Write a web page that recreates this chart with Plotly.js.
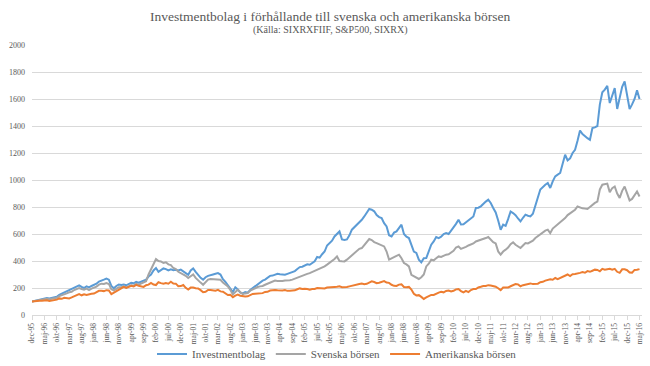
<!DOCTYPE html>
<html>
<head>
<meta charset="utf-8">
<script src="https://cdn.plot.ly/plotly-3.0.1.min.js"></script>
<style>html,body{margin:0;padding:0;background:#fff;}#chart{width:650px;height:366px;}</style>
</head>
<body>
<div id="chart"></div>
<script>
// Monthly observations dec-95 .. maj-16 (index 0..245)
const tickLabels = ["dec-95","maj-96","okt-96","mar-97","aug-97","jan-98","jun-98","nov-98","apr-99","sep-99",
  "feb-00","jul-00","dec-00","maj-01","okt-01","mar-02","aug-02","jan-03","jun-03","nov-03",
  "apr-04","sep-04","feb-05","jul-05","dec-05","maj-06","okt-06","mar-07","aug-07","jan-08",
  "jun-08","nov-08","apr-09","sep-09","feb-10","jul-10","dec-10","maj-11","okt-11","mar-12",
  "aug-12","jan-13","jun-13","nov-13","apr-14","sep-14","feb-15","jul-15","dec-15","maj-16"];

const investmentbolag = [100,
  105,110,113,118,124,126,122,127,131,135,150,158,
  167,175,185,190,203,212,220,208,200,212,205,215,
  222,232,248,258,262,270,262,215,198,215,225,222,
  225,220,230,238,235,245,240,247,252,262,285,300,
  330,348,320,335,345,340,330,338,332,335,330,336,
  325,310,298,330,345,320,298,275,262,280,290,298,
  300,305,310,300,265,245,220,200,170,205,190,165,
  160,170,165,185,200,215,232,240,255,262,275,290,
  292,300,305,302,300,298,305,310,318,325,340,355,
  358,365,375,372,385,398,430,425,450,470,515,530,
  550,582,600,619,560,555,560,590,632,650,668,690,
  705,730,760,785,780,768,740,725,718,680,656,590,
  582,610,619,640,669,600,580,570,520,470,460,410,
  390,420,422,470,521,545,578,570,580,600,607,600,
  625,644,675,706,670,672,686,705,718,730,793,795,
  805,825,840,854,830,793,760,700,632,669,660,710,
  767,755,740,715,693,720,743,735,730,750,820,870,
  930,950,965,978,941,990,1027,1040,1052,1120,1187,1145,
  1160,1200,1224,1290,1367,1340,1323,1310,1298,1385,1390,1400,
  1560,1650,1670,1698,1570,1630,1681,1526,1620,1690,1730,1620,
  1526,1560,1600,1664,1600];

const svenska = [100,
  104,108,110,115,120,120,116,120,124,128,140,145,
  152,160,168,172,185,195,200,192,188,195,185,195,
  200,210,225,232,230,237,230,190,182,195,205,205,
  210,205,212,220,218,230,225,232,240,250,300,336,
  380,415,400,397,385,390,375,370,348,340,320,311,
  305,290,274,290,300,275,261,240,224,245,262,267,
  265,262,265,261,240,224,212,185,152,170,187,170,
  155,160,163,180,190,200,207,212,215,224,232,245,
  249,255,252,250,252,256,255,258,262,270,278,286,
  290,298,305,310,318,328,336,340,352,360,373,385,
  400,415,434,400,398,397,410,425,447,459,475,490,
  496,520,545,563,555,540,533,525,521,508,470,410,
  420,430,440,447,420,385,375,360,298,286,274,267,
  280,300,360,380,410,405,420,434,430,440,447,450,
  460,475,500,508,490,496,505,515,521,530,545,550,
  558,565,570,578,560,540,530,471,447,470,484,500,
  525,538,520,505,496,515,533,530,540,550,570,585,
  600,615,625,632,607,640,656,665,681,700,718,740,
  755,770,780,804,795,790,788,785,800,817,830,840,
  930,965,970,973,910,940,952,900,867,920,952,900,
  849,860,884,915,878];

const amerikanska = [100,
  103,104,105,106,109,109,104,106,112,114,123,120,
  128,128,123,130,138,144,155,146,154,148,155,158,
  159,170,179,180,177,184,182,155,165,178,189,200,
  208,201,209,217,211,223,216,214,208,221,225,238,
  226,222,243,236,231,236,232,246,233,232,213,214,
  222,201,188,203,204,199,197,184,169,172,185,186,
  183,180,186,175,173,161,148,149,132,144,152,143,
  139,137,138,149,156,158,161,164,162,171,172,181,
  184,186,183,180,182,185,179,179,181,183,191,197,
  192,195,192,188,193,193,200,198,199,196,203,203,
  208,208,210,213,206,206,207,212,217,224,227,230,
  233,228,231,241,249,244,236,239,248,251,240,238,
  224,216,215,225,227,208,206,208,189,157,145,147,
  134,119,130,142,149,149,160,166,172,168,178,181,
  174,179,190,193,177,167,179,170,185,192,192,204,
  209,215,215,221,218,214,210,198,184,203,202,204,
  213,222,229,227,213,221,224,228,234,229,230,232,
  243,246,255,259,265,261,274,265,273,285,293,300,
  289,302,304,306,312,318,313,325,320,328,336,334,
  324,342,336,339,342,335,342,320,312,338,338,332,
  315,314,334,335,340];

const titleText = "Investmentbolag i förhållande till svenska och amerikanska börsen";
const subtitleText = "(Källa: SIXRXFIIF, S&amp;P500, SIXRX)";

const months = investmentbolag.map((_, i) => i);
const tickVals = tickLabels.map((_, i) => i * 5);

const FONT = "'Liberation Serif', 'DejaVu Serif', serif";
const TXT = '#595959';

const traces = [
  {x: months, y: investmentbolag, name: 'Investmentbolag', type: 'scatter', mode: 'lines',
   line: {color: '#5B9BD5', width: 2}},
  {x: months, y: svenska, name: 'Svenska börsen', type: 'scatter', mode: 'lines',
   line: {color: '#A5A5A5', width: 2}},
  {x: months, y: amerikanska, name: 'Amerikanska börsen', type: 'scatter', mode: 'lines',
   line: {color: '#ED7D31', width: 2}}
];

const layout = {
  width: 650, height: 366,
  paper_bgcolor: '#ffffff', plot_bgcolor: '#ffffff',
  margin: {l: 32, r: 8, t: 45, b: 51},
  font: {family: FONT, color: TXT},
  annotations: [
    {text: titleText, xref: 'paper', yref: 'paper', x: 0.49, y: 1.107, xanchor: 'center', yanchor: 'middle',
     showarrow: false, font: {family: FONT, size: 13.5, color: TXT}},
    {text: subtitleText, xref: 'paper', yref: 'paper', x: 0.49, y: 1.054, xanchor: 'center', yanchor: 'middle',
     showarrow: false, font: {family: FONT, size: 10, color: TXT}}
  ],
  showlegend: true,
  legend: {orientation: 'h', x: 0.5, xanchor: 'center', xref: 'paper', y: 0.033, yanchor: 'middle', yref: 'container',
    font: {family: FONT, size: 11, color: TXT}, bgcolor: 'rgba(0,0,0,0)', traceorder: 'normal'},
  xaxis: {
    range: [0, 246], tickmode: 'array', tickvals: tickVals, ticktext: tickLabels,
    tickangle: -90, tickfont: {family: FONT, size: 7.5, color: TXT},
    showgrid: false, zeroline: false, showline: true, linecolor: '#D9D9D9', linewidth: 1,
    ticks: 'outside', ticklen: 4, tickcolor: '#D9D9D9', fixedrange: true, automargin: false
  },
  yaxis: {
    range: [0, 2000], dtick: 200, tick0: 0,
    tickfont: {family: FONT, size: 8, color: TXT},
    showgrid: true, gridcolor: '#D9D9D9', gridwidth: 1,
    zeroline: false, showline: false, ticks: '', ticklabelstandoff: 6, fixedrange: true, automargin: false
  }
};

Plotly.newPlot('chart', traces, layout, {displayModeBar: false, staticPlot: true});
</script>
</body>
</html>
